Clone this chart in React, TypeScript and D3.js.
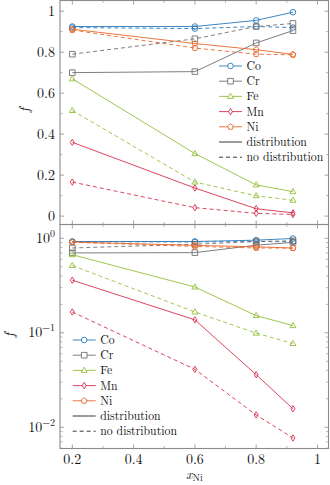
import React, { useEffect, useRef } from 'react';
import * as d3 from 'd3';

// x positions (Ni fraction)
const xNi = [0.2, 0.6, 0.8, 0.92];
const elements = ['Co', 'Cr', 'Fe', 'Mn', 'Ni'];
const colors = ['#2a78b8', '#707070', '#94c03c', '#d8304e', '#e8692a'];
const shapes = ['circle', 'square', 'triangle', 'diamond', 'pentagon'];

// f values, "distribution" (solid) and "no distribution" (dashed)
const coDist = [0.925, 0.925, 0.955, 0.995];
const coNoDist = [0.92, 0.915, 0.925, 0.92];
const crDist = [0.7, 0.705, 0.845, 0.905];
const crNoDist = [0.79, 0.865, 0.925, 0.94];
const feDist = [0.67, 0.305, 0.152, 0.119];
const feNoDist = [0.515, 0.166, 0.099, 0.077];
const mnDist = [0.36, 0.137, 0.036, 0.0157];
const mnNoDist = [0.166, 0.041, 0.0135, 0.0077];
const niDist = [0.912, 0.842, 0.812, 0.789];
const niNoDist = [0.908, 0.82, 0.79, 0.787];

const distSeries = [coDist, crDist, feDist, mnDist, niDist];
const noDistSeries = [coNoDist, crNoDist, feNoDist, mnNoDist, niNoDist];

const linTicks = [0, 0.2, 0.4, 0.6, 0.8, 1];
const xTicks = [0.2, 0.4, 0.6, 0.8, 1];

const FONT = '"Latin Modern Roman", "Liberation Serif", serif';

function markerPath(shape, cx, cy) {
  const p = d3.path();
  if (shape === 'circle') {
    p.moveTo(cx + 2.8, cy);
    p.arc(cx, cy, 2.8, 0, Math.PI * 2);
  } else if (shape === 'square') {
    p.rect(cx - 2.8, cy - 2.8, 5.6, 5.6);
  } else if (shape === 'triangle') {
    p.moveTo(cx, cy - 3.2);
    p.lineTo(cx + 3, cy + 2);
    p.lineTo(cx - 3, cy + 2);
    p.closePath();
  } else if (shape === 'diamond') {
    p.moveTo(cx, cy - 3.2);
    p.lineTo(cx + 2, cy);
    p.lineTo(cx, cy + 3.2);
    p.lineTo(cx - 2, cy);
    p.closePath();
  } else {
    for (let i = 0; i < 5; i++) {
      const a = -Math.PI / 2 + (i * 2 * Math.PI) / 5;
      const px = cx + 3 * Math.cos(a), py = cy + 3 * Math.sin(a);
      if (i === 0) p.moveTo(px, py); else p.lineTo(px, py);
    }
    p.closePath();
  }
  return p.toString();
}

export default function App() {
  const ref = useRef(null);

  useEffect(() => {
    const svg = d3.select(ref.current);
    svg.selectAll('*').remove();

    const left = 60, right = 328.5;
    const x = d3.scaleLinear().domain([0.1598, 1.036]).range([left, right]);

    const panels = [
      { top: 0.5, bottom: 224.5, y: d3.scaleLinear().domain([1.052, -0.041]).range([0.5, 224.5]), log: false, legend: [219, 66], ylabel: [29, 110] },
      { top: 224.5, bottom: 448.5, y: d3.scaleLog().domain([Math.pow(10, 0.146), Math.pow(10, -2.225)]).range([224.5, 448.5]), log: true, legend: [72.7, 340], ylabel: [14, 335] },
    ];

    const txt = (sel) => sel.style('font-family', FONT).attr('fill', '#111');

    panels.forEach(pn => {
      const g = svg.append('g');
      const y = pn.y;

      // ticks
      const majorY = pn.log ? [1, 0.1, 0.01] : linTicks;
      const minorY = pn.log
        ? d3.range(-3, 1).flatMap(e => d3.range(2, 10).map(k => k * Math.pow(10, e))).filter(v => v > y.domain()[1] && v < y.domain()[0])
        : d3.range(0.1, 1.05, 0.2);
      const tickColor = '#8a8a8a';
      majorY.forEach(v => {
        g.append('line').attr('x1', left).attr('x2', left + 4).attr('y1', y(v)).attr('y2', y(v)).attr('stroke', tickColor).attr('stroke-width', 0.8);
        g.append('line').attr('x1', right - 4).attr('x2', right).attr('y1', y(v)).attr('y2', y(v)).attr('stroke', tickColor).attr('stroke-width', 0.8);
      });
      minorY.forEach(v => {
        g.append('line').attr('x1', left).attr('x2', left + 2.5).attr('y1', y(v)).attr('y2', y(v)).attr('stroke', tickColor).attr('stroke-width', 0.6);
        g.append('line').attr('x1', right - 2.5).attr('x2', right).attr('y1', y(v)).attr('y2', y(v)).attr('stroke', tickColor).attr('stroke-width', 0.6);
      });
      const minorX = [0.3, 0.5, 0.7, 0.9];
      xTicks.forEach(v => {
        g.append('line').attr('x1', x(v)).attr('x2', x(v)).attr('y1', pn.top).attr('y2', pn.top + 4).attr('stroke', tickColor).attr('stroke-width', 0.8);
        g.append('line').attr('x1', x(v)).attr('x2', x(v)).attr('y1', pn.bottom - 4).attr('y2', pn.bottom).attr('stroke', tickColor).attr('stroke-width', 0.8);
      });
      minorX.forEach(v => {
        g.append('line').attr('x1', x(v)).attr('x2', x(v)).attr('y1', pn.top).attr('y2', pn.top + 2.5).attr('stroke', tickColor).attr('stroke-width', 0.6);
        g.append('line').attr('x1', x(v)).attr('x2', x(v)).attr('y1', pn.bottom - 2.5).attr('y2', pn.bottom).attr('stroke', tickColor).attr('stroke-width', 0.6);
      });

      // y tick labels
      majorY.forEach(v => {
        const t = txt(g.append('text').attr('x', 55).attr('y', y(v) + 4.5).attr('text-anchor', 'end').attr('font-size', 14));
        if (pn.log) {
          const e = Math.round(Math.log10(v));
          t.append('tspan').text('10');
          t.append('tspan').attr('dy', -6).attr('font-size', 10).text(e === 0 ? '0' : '\u2212' + Math.abs(e));
        } else {
          t.text(v === 0 || v === 1 ? String(v) : v.toFixed(1));
        }
      });

      // y label
      txt(g.append('text').attr('transform', `translate(${pn.ylabel[0]},${pn.ylabel[1]}) rotate(-90)`).attr('text-anchor', 'middle')
        .attr('font-style', 'italic').attr('font-size', 14)).text('f');

      // series
      const clipId = `clip${pn.log ? 'b' : 'a'}`;
      svg.append('clipPath').attr('id', clipId).append('rect').attr('x', left).attr('y', pn.top).attr('width', right - left).attr('height', pn.bottom - pn.top);
      const plot = g.append('g').attr('clip-path', `url(#${clipId})`);
      const line = d3.line().x((d, i) => x(xNi[i])).y(d => y(d));
      elements.forEach((el, k) => {
        [distSeries[k], noDistSeries[k]].forEach((vals, j) => {
          plot.append('path').attr('d', line(vals)).attr('fill', 'none').attr('stroke', colors[k])
            .attr('stroke-width', 0.9).attr('stroke-dasharray', j === 1 ? '4,3' : null);
          vals.forEach((v, i) => {
            plot.append('path').attr('d', markerPath(shapes[k], x(xNi[i]), y(v)))
              .attr('fill', 'none').attr('stroke', colors[k]).attr('stroke-width', 0.9);
          });
        });
      });

      // legend
      const [lx, ly] = pn.legend;
      const items = elements.map((el, k) => ({ label: el, color: colors[k], shape: shapes[k], dash: null }))
        .concat([{ label: 'distribution', color: '#222', shape: null, dash: null }, { label: 'no distribution', color: '#222', shape: null, dash: '4,3' }]);
      items.forEach((it, i) => {
        const yy = ly + i * 15.2;
        g.append('line').attr('x1', lx).attr('x2', lx + 23).attr('y1', yy).attr('y2', yy)
          .attr('stroke', it.color).attr('stroke-width', 0.9).attr('stroke-dasharray', it.dash);
        if (it.shape) {
          g.append('path').attr('d', markerPath(it.shape, lx + 11.5, yy)).attr('fill', 'white').attr('stroke', it.color).attr('stroke-width', 0.9);
        }
        txt(g.append('text').attr('x', lx + 27.5).attr('y', yy + 4).attr('font-size', 11.8)).text(it.label);
      });

      // frame
      g.append('rect').attr('x', left).attr('y', pn.top).attr('width', right - left).attr('height', pn.bottom - pn.top)
        .attr('fill', 'none').attr('stroke', '#8a8a8a').attr('stroke-width', 1.1);
    });

    // x tick labels
    xTicks.forEach(v => {
      txt(svg.append('text').attr('x', x(v)).attr('y', 463.5).attr('text-anchor', 'middle').attr('font-size', 14))
        .text(v === 1 ? '1' : v.toFixed(1));
    });
    const xl = txt(svg.append('text').attr('x', 186).attr('y', 478.5).attr('font-size', 14));
    xl.append('tspan').attr('font-style', 'italic').text('x');
    xl.append('tspan').attr('dy', 2).attr('font-size', 10).text('Ni');
  }, []);

  return (
    <svg ref={ref} width={330} height={485} style={{ position: 'absolute', left: 0, top: 0, background: 'white' }} />
  );
}
